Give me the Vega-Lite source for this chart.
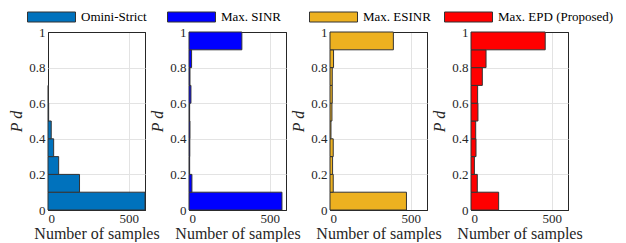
{
  "$schema": "https://vega.github.io/schema/vega-lite/v6.json",
  "background": "white",
  "padding": {"left": 8, "top": 10, "right": 0, "bottom": 0},
  "datasets": {
    "hist": [
      {"method": "Omini-Strict", "lo": 0.0, "hi": 0.1, "count": 600},
      {"method": "Omini-Strict", "lo": 0.1, "hi": 0.2, "count": 195},
      {"method": "Omini-Strict", "lo": 0.2, "hi": 0.3, "count": 66},
      {"method": "Omini-Strict", "lo": 0.3, "hi": 0.4, "count": 35},
      {"method": "Omini-Strict", "lo": 0.4, "hi": 0.5, "count": 20},
      {"method": "Omini-Strict", "lo": 0.5, "hi": 0.6, "count": 4},
      {"method": "Omini-Strict", "lo": 0.6, "hi": 0.7, "count": 3},
      {"method": "Max. SINR", "lo": 0.0, "hi": 0.1, "count": 575},
      {"method": "Max. SINR", "lo": 0.1, "hi": 0.2, "count": 18},
      {"method": "Max. SINR", "lo": 0.2, "hi": 0.3, "count": 4},
      {"method": "Max. SINR", "lo": 0.3, "hi": 0.4, "count": 5},
      {"method": "Max. SINR", "lo": 0.4, "hi": 0.5, "count": 6},
      {"method": "Max. SINR", "lo": 0.5, "hi": 0.6, "count": 4},
      {"method": "Max. SINR", "lo": 0.6, "hi": 0.7, "count": 12},
      {"method": "Max. SINR", "lo": 0.7, "hi": 0.8, "count": 6},
      {"method": "Max. SINR", "lo": 0.8, "hi": 0.9, "count": 16},
      {"method": "Max. SINR", "lo": 0.9, "hi": 1.0, "count": 327},
      {"method": "Max. ESINR", "lo": 0.0, "hi": 0.1, "count": 473},
      {"method": "Max. ESINR", "lo": 0.1, "hi": 0.2, "count": 20},
      {"method": "Max. ESINR", "lo": 0.2, "hi": 0.3, "count": 16},
      {"method": "Max. ESINR", "lo": 0.3, "hi": 0.4, "count": 20},
      {"method": "Max. ESINR", "lo": 0.4, "hi": 0.5, "count": 6},
      {"method": "Max. ESINR", "lo": 0.5, "hi": 0.6, "count": 12},
      {"method": "Max. ESINR", "lo": 0.6, "hi": 0.7, "count": 14},
      {"method": "Max. ESINR", "lo": 0.7, "hi": 0.8, "count": 14},
      {"method": "Max. ESINR", "lo": 0.8, "hi": 0.9, "count": 22},
      {"method": "Max. ESINR", "lo": 0.9, "hi": 1.0, "count": 392},
      {"method": "Max. EPD (Proposed)", "lo": 0.0, "hi": 0.1, "count": 171},
      {"method": "Max. EPD (Proposed)", "lo": 0.1, "hi": 0.2, "count": 39},
      {"method": "Max. EPD (Proposed)", "lo": 0.2, "hi": 0.3, "count": 21},
      {"method": "Max. EPD (Proposed)", "lo": 0.3, "hi": 0.4, "count": 31},
      {"method": "Max. EPD (Proposed)", "lo": 0.4, "hi": 0.5, "count": 29},
      {"method": "Max. EPD (Proposed)", "lo": 0.5, "hi": 0.6, "count": 43},
      {"method": "Max. EPD (Proposed)", "lo": 0.6, "hi": 0.7, "count": 41},
      {"method": "Max. EPD (Proposed)", "lo": 0.7, "hi": 0.8, "count": 70},
      {"method": "Max. EPD (Proposed)", "lo": 0.8, "hi": 0.9, "count": 93},
      {"method": "Max. EPD (Proposed)", "lo": 0.9, "hi": 1.0, "count": 459}
    ]
  },
  "data": {"name": "hist"},
  "spacing": 44,
  "bounds": "flush",
  "resolve": {"scale": {"color": "independent"}, "legend": {"color": "independent"}},
  "hconcat": [
    {
      "width": 97, "height": 178,
      "transform": [{"filter": "datum.method === 'Omini-Strict'"}],
      "mark": {"type": "rect", "stroke": "#333333", "strokeWidth": 1},
      "encoding": {
        "x": {"field": "count", "type": "quantitative", "scale": {"domain": [0, 600]}, "axis": {"values": [0, 500, 600], "title": "Number of samples"}},
        "x2": {"datum": 0},
        "y": {"field": "lo", "type": "quantitative", "scale": {"domain": [0, 1]}, "axis": {"values": [0, 0.2, 0.4, 0.6, 0.8, 1], "title": "P d"}},
        "y2": {"field": "hi"},
        "color": {"field": "method", "type": "nominal", "scale": {"domain": ["Omini-Strict"], "range": ["#0072BD"]}, "legend": {"orient": "none", "legendX": -3, "legendY": -21.5, "title": null}}
      }
    },
    {
      "width": 97, "height": 178,
      "transform": [{"filter": "datum.method === 'Max. SINR'"}],
      "mark": {"type": "rect", "stroke": "#333333", "strokeWidth": 1},
      "encoding": {
        "x": {"field": "count", "type": "quantitative", "scale": {"domain": [0, 600]}, "axis": {"values": [0, 500, 600], "title": "Number of samples"}},
        "x2": {"datum": 0},
        "y": {"field": "lo", "type": "quantitative", "scale": {"domain": [0, 1]}, "axis": {"values": [0, 0.2, 0.4, 0.6, 0.8, 1], "title": "P d"}},
        "y2": {"field": "hi"},
        "color": {"field": "method", "type": "nominal", "scale": {"domain": ["Max. SINR"], "range": ["#0000FF"]}, "legend": {"orient": "none", "legendX": -4, "legendY": -21.5, "title": null}}
      }
    },
    {
      "width": 97, "height": 178,
      "transform": [{"filter": "datum.method === 'Max. ESINR'"}],
      "mark": {"type": "rect", "stroke": "#333333", "strokeWidth": 1},
      "encoding": {
        "x": {"field": "count", "type": "quantitative", "scale": {"domain": [0, 600]}, "axis": {"values": [0, 500, 600], "title": "Number of samples"}},
        "x2": {"datum": 0},
        "y": {"field": "lo", "type": "quantitative", "scale": {"domain": [0, 1]}, "axis": {"values": [0, 0.2, 0.4, 0.6, 0.8, 1], "title": "P d"}},
        "y2": {"field": "hi"},
        "color": {"field": "method", "type": "nominal", "scale": {"domain": ["Max. ESINR"], "range": ["#EDB120"]}, "legend": {"orient": "none", "legendX": -3, "legendY": -21.5, "title": null}}
      }
    },
    {
      "width": 97, "height": 178,
      "transform": [{"filter": "datum.method === 'Max. EPD (Proposed)'"}],
      "mark": {"type": "rect", "stroke": "#333333", "strokeWidth": 1},
      "encoding": {
        "x": {"field": "count", "type": "quantitative", "scale": {"domain": [0, 600]}, "axis": {"values": [0, 500, 600], "title": "Number of samples"}},
        "x2": {"datum": 0},
        "y": {"field": "lo", "type": "quantitative", "scale": {"domain": [0, 1]}, "axis": {"values": [0, 0.2, 0.4, 0.6, 0.8, 1], "title": "P d"}},
        "y2": {"field": "hi"},
        "color": {"field": "method", "type": "nominal", "scale": {"domain": ["Max. EPD (Proposed)"], "range": ["#FF0000"]}, "legend": {"orient": "none", "legendX": -9, "legendY": -21.5, "title": null}}
      }
    }
  ],
  "config": {
    "font": "Liberation Serif",
    "view": {"stroke": "#262626", "strokeWidth": 1, "fill": "white"},
    "axis": {
      "domain": false,
      "ticks": false,
      "grid": true,
      "gridWidth": 1,
      "labelFont": "Liberation Serif",
      "labelFontSize": 13,
      "labelColor": "#262626",
      "labelPadding": 3,
      "titleFont": "Liberation Serif",
      "titleFontSize": 16,
      "titleFontWeight": "normal",
      "titleColor": "#262626"
    },
    "axisX": {
      "titlePadding": 0,
      "labelPadding": 2,
      "labelExpr": "datum.value === 600 ? '' : datum.label",
      "gridColor": {"condition": {"test": "datum.value === 0 || datum.value === 600", "value": "#262626"}, "value": "#e3e3e3"}
    },
    "axisY": {
      "titleFontStyle": "italic",
      "titlePadding": 4,
      "labelAngle": 0,
      "labelExpr": "datum.value === 1 ? '1' : datum.value === 0 ? '0' : datum.label",
      "gridColor": {"condition": {"test": "datum.value === 0 || datum.value === 1", "value": "#262626"}, "value": "#e3e3e3"}
    },
    "legend": {
      "symbolType": "M-4.8,-1H4.8V1H-4.8Z",
      "symbolSize": 100,
      "symbolStrokeColor": "#333333",
      "symbolStrokeWidth": 1,
      "symbolOpacity": 1,
      "labelFont": "Liberation Serif",
      "labelFontSize": 13,
      "labelColor": "#000000",
      "labelOffset": 23,
      "padding": 0
    }
  }
}
